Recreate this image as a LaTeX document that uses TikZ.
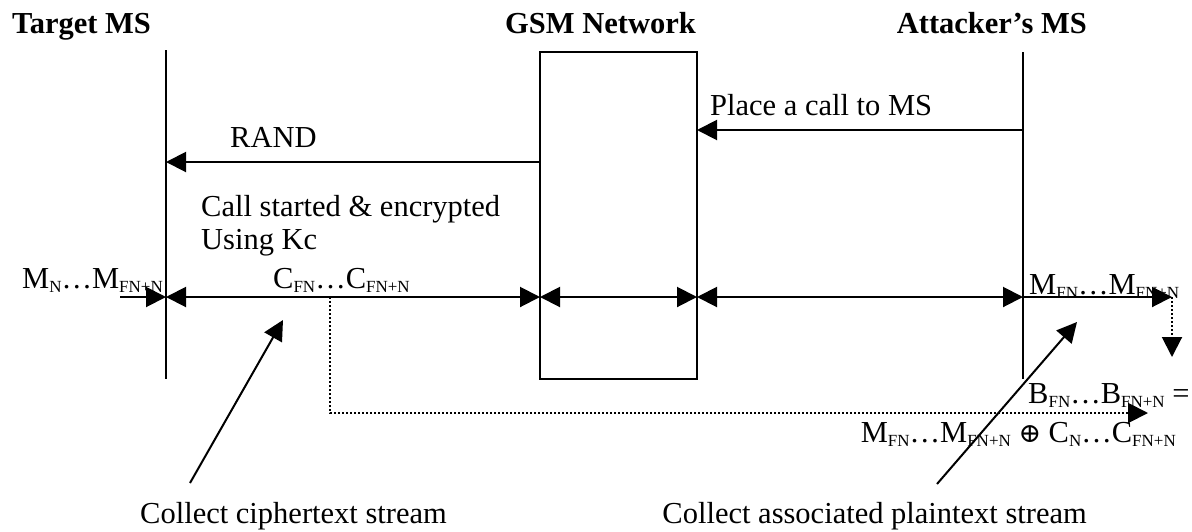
\documentclass[tikz,border=0pt]{standalone}
\usepackage{fontspec}
\setmainfont{Liberation Serif}
\newfontfamily\symfnt{DejaVu Serif}
\usetikzlibrary{arrows.meta}
\newcommand{\sbs}[1]{\raisebox{-4pt}{\fontsize{17}{17}\selectfont #1}}
\newcommand{\xorsym}{{\symfnt\fontsize{27}{27}\selectfont ⊕}}
\begin{document}
\begin{tikzpicture}[x=1pt,y=-1pt,
  lbl/.style={inner sep=0pt,font=\fontsize{30.5}{36}\selectfont},
  hdr/.style={inner sep=0pt,font=\fontsize{30.5}{36}\selectfont\bfseries},
  ln/.style={line width=2pt},
  tip/.style={-{Triangle[length=20pt,width=20pt]}},
  dtip/.style={{Triangle[length=20pt,width=20pt]}-{Triangle[length=20pt,width=20pt]}},
  dots/.style={line width=2pt,dash pattern=on 2pt off 2pt}]
\useasboundingbox (0,0) rectangle (1192,531);
% lifelines and network box
\coordinate (tTop) at (166,50);
\coordinate (tBot) at (166,379);
\coordinate (aTop) at (1023,52);
\coordinate (aBot) at (1023,379);
\node[draw,line width=2pt,minimum width=157pt,minimum height=327pt,inner sep=0pt] (gsm) at (618.5,215.5) {};
\draw[ln] (tTop) -- (tBot);
\draw[ln] (aTop) -- (aBot);
% headers
\node[hdr,anchor=base west] (hT) at (12,33) {Target MS};
\node[hdr,anchor=base west] (hG) at (505,33) {GSM Network};
\node[hdr,anchor=base east] (hA) at (1087,33) {Attacker’s MS};
% signalling arrows
\coordinate (pA) at (1023,130);
\coordinate (pG) at (697,130);
\coordinate (rG) at (540,162);
\coordinate (rT) at (166,162);
\draw[ln,tip] (pA) -- (pG);
\draw[ln,tip] (rG) -- (rT);
\node[lbl,anchor=base west] (place) at (710,115) {Place a call to MS};
\node[lbl,anchor=base west] (rand) at (230,147) {RAND};
\node[lbl,anchor=base west] (call1) at (201,216) {Call started \& encrypted};
\node[lbl,anchor=base west] (call2) at (201,249) {Using Kc};
% main data line
\coordinate (m0) at (120,297);
\coordinate (m1) at (166,297);
\coordinate (m2) at (540,297);
\coordinate (m3) at (697,297);
\coordinate (m4) at (1023,297);
\coordinate (m5) at (1172,297);
\draw[ln,tip] (m0) -- (m1);
\draw[ln,dtip] (m1) -- (m2);
\draw[ln,dtip] (m2) -- (m3);
\draw[ln,dtip] (m3) -- (m4);
\draw[ln,tip] (m4) -- (m5);
\node[lbl,anchor=base west] (mIn) at (22,288) {M\sbs{N}…M\sbs{FN+N}};
\node[lbl,anchor=base west] (cStr) at (273,288) {C\sbs{FN}…C\sbs{FN+N}};
\node[lbl,anchor=base west] (mOut) at (1029,294) {M\sbs{FN}…M\sbs{FN+N}};
% dotted paths
\coordinate (d1) at (1172,357);
\draw[dots] (m5) -- (1172,340);
\draw[ln,tip] (1172,338) -- (d1);
\coordinate (c0) at (330,297);
\coordinate (c1) at (330,413);
\coordinate (c2) at (1148,413);
\draw[dots] (c0) -- (c1) -- (1129,413);
\draw[ln,tip] (1127,413) -- (c2);
\node[lbl,anchor=base west] (bEq) at (1028,403) {B\sbs{FN}…B\sbs{FN+N} =};
\node[lbl,anchor=base east] (xorEq) at (1176,442) {M\sbs{FN}…M\sbs{FN+N} \xorsym{} C\sbs{N}…C\sbs{FN+N}};
% collect arrows
\coordinate (k1s) at (190,483);
\coordinate (k1e) at (283,320);
\coordinate (k2s) at (937,484);
\coordinate (k2e) at (1077,322);
\draw[ln,tip] (k1s) -- (k1e);
\draw[ln,tip] (k2s) -- (k2e);
\node[lbl,anchor=base west] (col1) at (140,523) {Collect ciphertext stream};
\node[lbl,anchor=base east] (col2) at (1087,523) {Collect associated plaintext stream};
\end{tikzpicture}
\end{document}
